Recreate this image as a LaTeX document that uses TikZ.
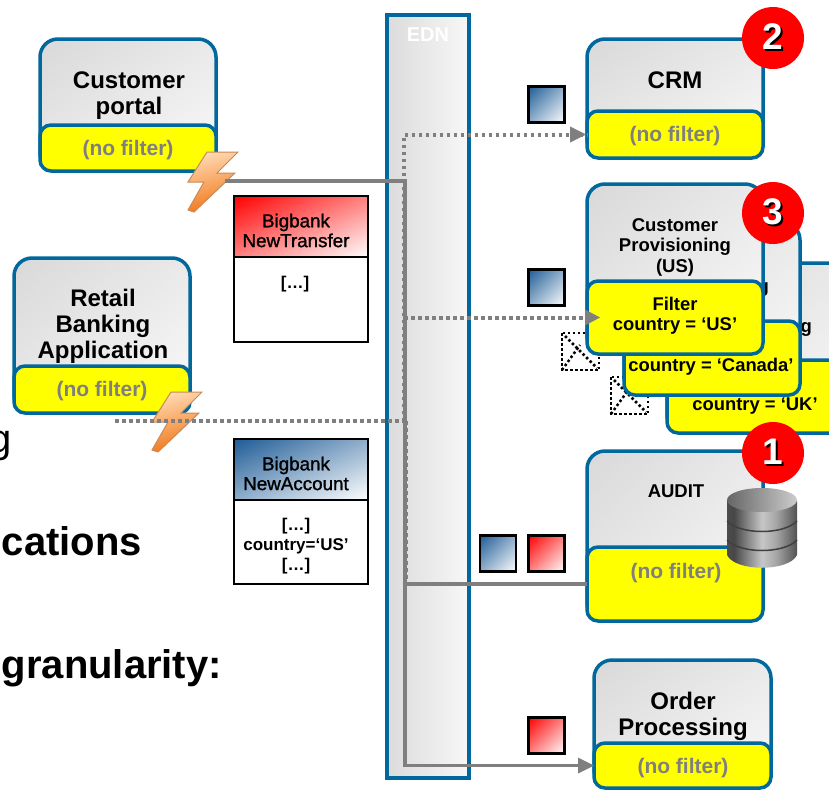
\documentclass[tikz,border=0pt]{standalone}
\usepackage{fontspec}
\setmainfont{Liberation Sans}
\newfontfamily\fakebold[FakeBold=1.2]{Liberation Sans}
\definecolor{edgeblue}{HTML}{00689C}
\definecolor{linegrey}{HTML}{7F7F7F}
\definecolor{boltedge}{HTML}{C98A5A}
\definecolor{padyellow}{HTML}{FFFF00}
\definecolor{boltlight}{HTML}{FFD8B0}
\definecolor{boltdeep}{HTML}{F07414}
\pgfdeclarehorizontalshading{dbside}{100bp}{color(0bp)=(black!62);color(30bp)=(black!72);color(50bp)=(black!22);color(60bp)=(black!35);color(75bp)=(black!68);color(100bp)=(black!45)}
\pgfdeclarefunctionalshading{redfade}{\pgfpoint{0bp}{0bp}}{\pgfpoint{100bp}{100bp}}{}{100 exch sub add 50 sub 100 div dup 1 3 1 roll}
\pgfdeclarefunctionalshading{bluefade}{\pgfpoint{0bp}{0bp}}{\pgfpoint{100bp}{100bp}}{}{100 exch sub add 50 sub 100 div dup .88 mul .12 add exch dup .64 mul .36 add exch .41 mul .59 add}
\pgfdeclarefunctionalshading{greyfade}{\pgfpoint{0bp}{0bp}}{\pgfpoint{100bp}{100bp}}{}{100 exch sub add 50 sub 100 div .13 mul .85 add dup dup}
\newcommand{\sz}[1]{\fontsize{#1}{#1}\selectfont}
\newcommand{\digit}[1]{\rlap{\kern2pt\raisebox{-2pt}{\color{black}#1}}\textcolor{white}{#1}}
\newcommand{\bolt}[2]{%
  \begin{scope}[shift={(#1,#2)}]
    \path[boltshape] (207,152) -- (238,152) -- (217,173) -- (235,173) -- (194,212) -- (188,210) -- (204,182) -- (188,182) -- cycle;
  \end{scope}}
\newcommand{\body}[5]{% name, x1, y1, x2, y2
  \node[appbody,minimum width=#4-#2,minimum height=#5-#3] (#1) at ({(#2+#4)/2},{(#3+#5)/2}) {};}
\newcommand{\filt}[5]{% name, x1, y1, x2, y2
  \node[appfilter,minimum width=#4-#2,minimum height=#5-#3] (#1) at ({(#2+#4)/2},{(#3+#5)/2}) {};}
\newcommand{\msgsq}[4]{% name, x, y, shading
  \node[msgsquare,minimum size=36pt,shading=#4,shading angle=0] (#1) at (#2,#3) {};}
\newcommand{\missing}[2]{%
  \begin{scope}[shift={(#1,#2)}]
    \draw[dotbox] (0,0) rectangle (37,37);
    \draw[dotbox] (3,3) -- (35,35);
    \draw[dotbox] (0,37) -- (18,12);
  \end{scope}}
\tikzset{
  appbody/.style={draw=edgeblue,line width=3.5pt,rounded corners=18pt,shading=greyfade,shading angle=0,inner sep=0pt,outer sep=0pt},
  appfilter/.style={draw=edgeblue,line width=3.5pt,rounded corners=11pt,fill=padyellow,inner sep=0pt,outer sep=0pt},
  apptitle/.style={font=\bfseries\sz{24},align=center,inner sep=0pt},
  smalltitle/.style={font=\bfseries\sz{18.5},align=center,inner sep=0pt},
  nofilter/.style={font=\bfseries\sz{21},text=linegrey,inner sep=0pt},
  filtertext/.style={font=\bfseries\sz{18.4},align=center,inner sep=0pt},
  badge/.style={circle,fill=red,minimum size=62pt,inner sep=0pt,font=\bfseries\sz{37}},
  msgsquare/.style={draw=black,line width=2.5pt,inner sep=0pt},
  msgbox/.style={draw=black,line width=2.5pt,fill=white,inner sep=0pt,minimum width=134pt},
  msghead/.style={draw=black,line width=2.5pt,inner sep=0pt,minimum width=134pt,minimum height=61pt,shading angle=0},
  msgtitle/.style={font=\fakebold\sz{18.8},align=center,inner sep=0pt},
  msgtext/.style={font=\bfseries\sz{17},align=center,inner sep=0pt},
  solidline/.style={draw=linegrey,line width=3.5pt},
  dotline/.style={draw=linegrey,line width=4pt,dash pattern=on 3.5pt off 3.5pt},
  tip/.style={fill=linegrey,draw=none},
  dotbox/.style={draw=black,line width=2.5pt,dash pattern=on 2.5pt off 2.5pt},
  boltshape/.style={draw=boltedge,line width=1pt,top color=boltlight,bottom color=boltdeep,shading angle=15},
  bgtext/.style={font=\bfseries\sz{40},inner sep=0pt},
}
\begin{document}
\begin{tikzpicture}[x=1pt,y=-1pt]
\useasboundingbox (0,0) rectangle (829,790);
\clip (0,0) rectangle (829,790);
\fill[white] (0,0) rectangle (829,790);

% cropped slide text
\node[font=\sz{40},inner sep=0pt,anchor=base east] (t1) at (12,452) {g};
\node[bgtext,anchor=base east] (t2) at (142,555) {cations};
\node[bgtext,anchor=base east] (t3) at (222,678) {granularity:};

% EDN bar
\node[draw=edgeblue,line width=4pt,left color=black!14,right color=black!3,minimum width=82pt,minimum height=763pt,inner sep=0pt] (edn) at (428,396) {};
\node[font=\bfseries\sz{20},text=white,inner sep=0pt] (ednl) at (428,35) {EDN};

% Customer portal
\body{portal}{40}{39}{216}{171}
\filt{portalf}{40}{125}{216}{171}
\node[apptitle] (portalt) at (129,96) {Customer\\[2pt]portal};
\node[nofilter] (portaln) at (128,150) {(no filter)};

% Retail
\body{retail}{14}{258}{190}{413}
\filt{retailf}{14}{366}{190}{413}
\node[apptitle] (retailt) at (103,326) {Retail\\[2pt]Banking\\[2pt]Application};
\node[nofilter] (retailn) at (102,391.5) {(no filter)};

% Messages
\node[msgbox,minimum height=146pt] (mt) at (301,269) {};
\node[msghead,shading=redfade] (mth) at (301,226.5) {};
\node[msgtitle] (mtt) at (296,230.5) {Bigbank\\[1pt]NewTransfer};
\node[msgtext] (mtb) at (295,284) {[…]};
\node[msgbox,minimum height=145pt] (ma) at (301,511.5) {};
\node[msghead,shading=bluefade] (mah) at (301,469.5) {};
\node[msgtitle] (mat) at (296,473.5) {Bigbank\\[1pt]NewAccount};
\node[msgtext] (mab) at (296,546) {[…]\\[3pt]country=‘US’\\[3pt][…]};

% Missing-picture marks, behind the filter boxes
\missing{562}{333}
\missing{611}{377}

% CRM
\body{crm}{587}{39}{763}{158}
\filt{crmf}{587}{111}{763}{158}
\node[apptitle] (crmt) at (675,80) {CRM};
\node[nofilter] (crmn) at (675,136.5) {(no filter)};

% UK
\body{uk}{667}{263}{860}{433}
\node[smalltitle,anchor=base east] (ukt) at (812,332) {Provisioning};
\filt{ukf}{667}{360}{860}{433}
\node[filtertext] (ukn) at (755,406) {country = ‘UK’};

% Canada
\body{ca}{624}{222}{800}{395}
\node[smalltitle,anchor=base east] (cat) at (769,292) {Provisioning};
\filt{caf}{624}{321}{800}{395}
\node[filtertext] (can) at (711,367) {country = ‘Canada’};

% US
\body{us}{587}{184}{763}{354}
\node[smalltitle] (ust) at (675,247) {Customer\\[2pt]Provisioning\\[2pt](US)};
\filt{usf}{587}{281}{763}{354}
\node[filtertext] (usn) at (675,316) {Filter\\[2pt]country = ‘US’};

% AUDIT
\body{audit}{587}{451}{763}{621}
\filt{auditf}{587}{547}{763}{621}
\node[smalltitle] (auditt) at (676,491) {AUDIT};
\node[nofilter] (auditn) at (676,573) {(no filter)};

% Order
\body{order}{594}{660}{771}{788}
\filt{orderf}{594}{743}{771}{788}
\node[apptitle] (ordert) at (683,716) {Order\\[2pt]Processing};
\node[nofilter] (ordern) at (683,768.5) {(no filter)};

% Lightning bolts
\bolt{0}{0}
\bolt{-36}{240}
\coordinate (bolta) at (225,181);
\coordinate (boltb) at (115,421);
\coordinate (juncs) at (405,181);
\coordinate (juncd) at (404,421);

% Connectors
\draw[dotline] (boltb) -- (juncd);
\draw[dotline] (juncd) -- (juncd |- crmf.west) -- (crmf.west);
\draw[dotline] (juncd |- usf.west) -- (usf.west);
\draw[dotline] ([xshift=2pt]juncd) -- ([xshift=2pt]juncd |- auditf.west);
\draw[solidline] (bolta) -- (juncs) -- (juncs |- orderf.west) -- ([xshift=-12pt]orderf.west);
\draw[solidline] (juncs |- auditf.west) -- (auditf.west);
\fill[tip] (crmf.west) ++(-1,0) -- ++(-16,-8) -- ++(0,16) -- cycle;
\fill[tip] ([xshift=13pt]usf.west) -- ++(-15,-8) -- ++(0,16) -- cycle;
\fill[tip] (orderf.west) -- ++(-16,-8) -- ++(0,16) -- cycle;

% Message squares
\msgsq{s1}{546.5}{104.5}{bluefade}
\msgsq{s2}{546.5}{287.5}{bluefade}
\msgsq{s3}{498}{553.5}{bluefade}
\msgsq{s4}{546.5}{553.5}{redfade}
\msgsq{s5}{546.5}{735.5}{redfade}

% Database
\path[shading=dbside] (727,501) -- (727,555) .. controls (735,572) and (789,572) .. (797,555) -- (797,501) -- cycle;
\draw[black!75,line width=1.5pt] (727,521) .. controls (740,535) and (784,535) .. (797,521);
\draw[black!75,line width=1.5pt] (727,540) .. controls (740,554) and (784,554) .. (797,540);
\path[left color=black!60,right color=black!20] (762,500) ellipse [x radius=35,y radius=12];

% Badges
\node[badge] (b2) at (773,38) {\digit{2}};
\node[badge] (b3) at (773,213) {\digit{3}};
\node[badge] (b1) at (773,453) {\digit{1}};
\end{tikzpicture}
\end{document}
